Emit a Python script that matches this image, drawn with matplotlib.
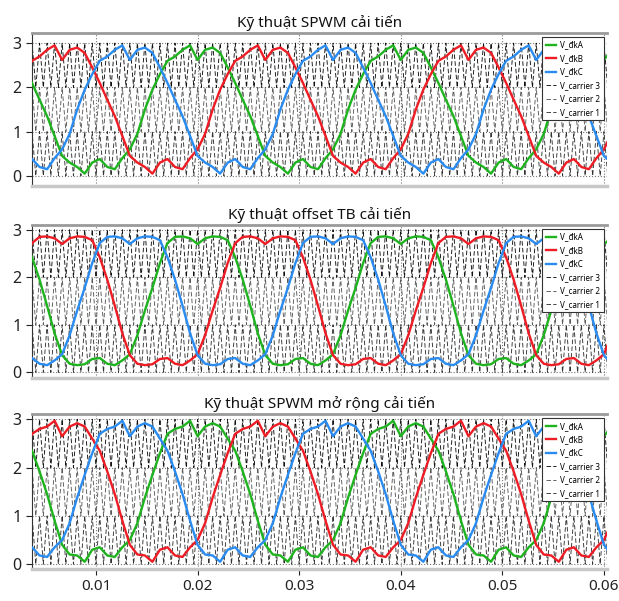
import numpy as np
import matplotlib
matplotlib.use("Agg")
import matplotlib.pyplot as plt

plt.rcParams['font.family'] = ['Noto Sans', 'DejaVu Sans']

# Fundamental and carrier settings
f_fund = 50.0
samples_per_cycle = 27          # carrier periods per fundamental cycle
t_start, t_end = 0.0037, 0.0603

titles = ["Kỹ thuật SPWM cải tiến",
          "Kỹ thuật offset TB cải tiến",
          "Kỹ thuật SPWM mở rộng cải tiến"]

# Phase-A control voltage over one fundamental cycle, one value per carrier period
spwm_improved = [2.62, 2.85, 2.90, 2.78, 2.45, 2.10, 1.72, 1.35, 0.90, 0.45,
                 0.30, 0.20, 0.05, 0.30, 0.38, 0.20, 0.15, 0.40, 0.60, 0.95,
                 1.50, 1.95, 2.30, 2.60, 2.70, 2.85, 2.95]
offset_tb_improved = [2.70, 2.82, 2.86, 2.85, 2.78, 2.42, 1.95, 1.40, 0.82, 0.36,
                      0.18, 0.15, 0.17, 0.28, 0.30, 0.18, 0.15, 0.25, 0.38, 0.78,
                      1.30, 1.78, 2.30, 2.72, 2.85, 2.86, 2.82]
spwm_ext_improved = [2.65, 2.85, 2.92, 2.85, 2.60, 2.35, 1.92, 1.45, 0.90, 0.40,
                     0.20, 0.18, 0.05, 0.30, 0.35, 0.18, 0.15, 0.35, 0.50, 0.85,
                     1.38, 1.85, 2.30, 2.70, 2.80, 2.85, 2.97]
profiles = [spwm_improved, offset_tb_improved, spwm_ext_improved]

phase_labels = ["V_đkA", "V_đkB", "V_đkC"]
phase_colors = ["#1fb41f", "#ee1d25", "#2a8cf0"]
phase_shift = [0, 9, 18]        # 0°, 120°, 240° in carrier periods

carrier_labels = ["V_carrier 3", "V_carrier 2", "V_carrier 1"]
carrier_levels = [2, 1, 0]
carrier_colors = ["#111111", "#5a5a5a", "#333333"]

xticks = [0.01, 0.02, 0.03, 0.04, 0.05, 0.06]
yticks = [0, 1, 2, 3]

# axes boxes in figure pixels: (left, top, right, bottom) and y-limits
W, H = 619, 601
boxes = [(32, 33, 607, 186), (32, 225, 607, 378), (32, 414, 607, 569)]
ylims = [(-0.23, 3.23), (-0.12, 3.10), (-0.10, 3.11)]

Ts = 1.0 / (f_fund * samples_per_cycle)
k = np.arange(int(np.floor(t_start / Ts)) - 1, int(np.ceil(t_end / Ts)) + 2)
t_samp = k * Ts

# triangle carrier vertices: every half carrier period alternating low/high
half = np.arange(2 * k[0], 2 * k[-1] + 1)
t_tri = half * Ts / 2
tri_unit = (half % 2 == 0).astype(float)

fig = plt.figure(figsize=(W / 100, H / 100), dpi=100)

for i, (box, prof) in enumerate(zip(boxes, profiles)):
    l, t, r, b = box
    ax = fig.add_axes([l / W, 1 - b / H, (r - l) / W, (b - t) / H])
    prof = np.asarray(prof)
    for lab, col, sh in zip(phase_labels, phase_colors, phase_shift):
        vals = prof[(k - sh) % samples_per_cycle]
        ax.plot(t_samp, vals, color=col, lw=1.7, label=lab, zorder=3)
    for lab, lev, col in zip(carrier_labels, carrier_levels, carrier_colors):
        ax.plot(t_tri, tri_unit + lev, color=col, lw=0.65,
                linestyle=(0, (5, 2.5)), label=lab, zorder=2)
    ax.set_xlim(t_start, t_end)
    ax.set_ylim(*ylims[i])
    ax.set_xticks(xticks)
    ax.set_yticks(yticks)
    ax.grid(True, linestyle=':', color='#777777', lw=0.8)
    ax.tick_params(axis='both', labelsize=11.5, length=4, width=0.8, colors='#222222')
    ax.tick_params(axis='x', labelsize=11)
    if i < 2:
        ax.tick_params(axis='x', labelbottom=False, length=0)
    else:
        ax.set_xticklabels([f"{v:.2f}" for v in xticks])
    ax.spines['right'].set_visible(False)
    ax.spines['top'].set_color('#9a9a9a')
    ax.spines['top'].set_linewidth(2)
    ax.spines['bottom'].set_color('#c8c8c8')
    ax.spines['bottom'].set_linewidth(2.5)
    ax.spines['left'].set_color('#333333')
    ax.spines['left'].set_linewidth(0.8)
    ax.set_title(titles[i], fontsize=11, pad=4, color='#111111')
    leg = ax.legend(loc='upper right', bbox_to_anchor=(0.995, 0.974), borderaxespad=0,
                    fontsize=5.8, handlelength=1.3, handletextpad=0.5, labelspacing=0.55,
                    borderpad=0.45, fancybox=False, framealpha=1, edgecolor='#333333')
    leg.get_frame().set_linewidth(0.8)

fig.savefig("out.png", dpi=100)
